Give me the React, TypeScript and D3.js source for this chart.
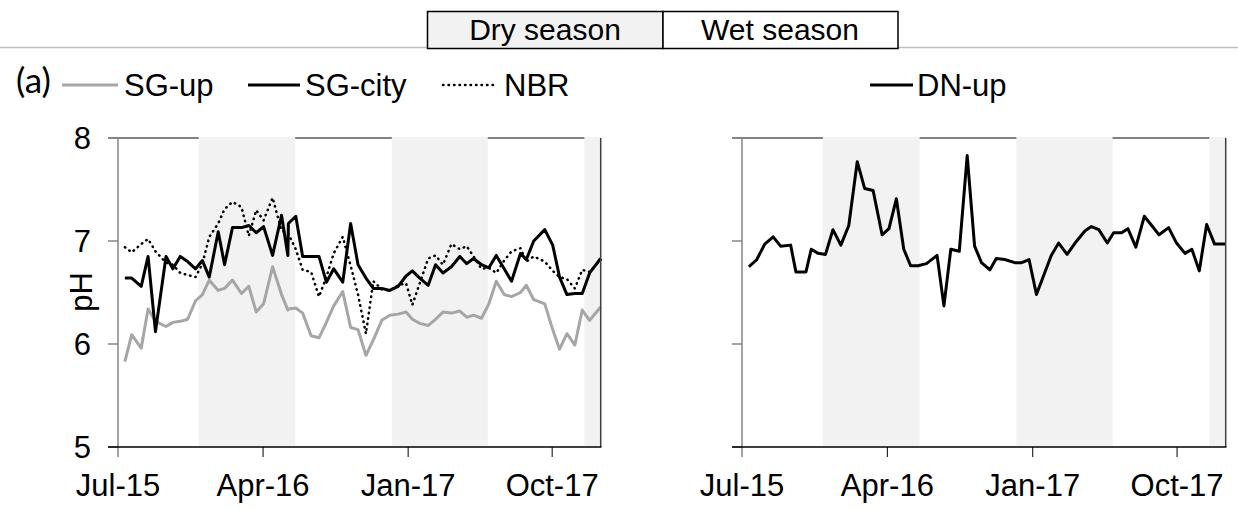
import * as d3 from 'd3';

// sampling dates and pH values
const sgDates = [
  '2015-07-14', '2015-07-27', '2015-08-14', '2015-08-27', '2015-09-10', '2015-09-30', '2015-10-13',
  '2015-10-27', '2015-11-10', '2015-11-25', '2015-12-08', '2015-12-21', '2016-01-07', '2016-01-19',
  '2016-02-03', '2016-02-20', '2016-03-05', '2016-03-19', '2016-04-02', '2016-04-19', '2016-05-06',
  '2016-05-18', '2016-05-19', '2016-06-02', '2016-06-15', '2016-07-01', '2016-07-16', '2016-07-30',
  '2016-08-13', '2016-08-30', '2016-09-14', '2016-09-28', '2016-10-13', '2016-10-27', '2016-11-12',
  '2016-11-27', '2016-12-13', '2016-12-28', '2017-01-09', '2017-01-23', '2017-02-08', '2017-02-22',
  '2017-03-08', '2017-03-24', '2017-04-09', '2017-04-22', '2017-05-05', '2017-05-20', '2017-06-03',
  '2017-06-17', '2017-07-02', '2017-07-16', '2017-08-02', '2017-08-13', '2017-08-27', '2017-09-17',
  '2017-10-02', '2017-10-15', '2017-10-29', '2017-11-13', '2017-11-27', '2017-12-11', '2018-01-01',
];

const sgUp = [
  5.83, 6.09, 5.96, 6.34, 6.22, 6.17, 6.21, 6.22, 6.24, 6.42, 6.48, 6.62, 6.52, 6.54,
  6.62, 6.49, 6.56, 6.31, 6.39, 6.75, 6.48, 6.33, 6.34, 6.35, 6.3, 6.08, 6.06, 6.21,
  6.37, 6.51, 6.16, 6.14, 5.89, 6.04, 6.23, 6.28, 6.29, 6.31, 6.24, 6.2, 6.18, 6.24,
  6.31, 6.3, 6.32, 6.26, 6.28, 6.25, 6.39, 6.61, 6.48, 6.46, 6.5, 6.57, 6.43, 6.39,
  6.14, 5.95, 6.1, 5.99, 6.33, 6.23, 6.36,
];

const sgCity = [
  6.64, 6.64, 6.56, 6.85, 6.12, 6.85, 6.73, 6.85, 6.8, 6.73, 6.81, 6.65, 7.09, 6.77,
  7.13, 7.13, 7.15, 7.08, 7.14, 6.86, 7.25, 6.86, 7.17, 7.24, 6.85, 6.85, 6.85, 6.6,
  6.73, 6.6, 7.17, 6.77, 6.64, 6.54, 6.54, 6.52, 6.56, 6.66, 6.71, 6.64, 6.57, 6.77,
  6.69, 6.75, 6.85, 6.78, 6.83, 6.77, 6.74, 6.86, 6.73, 6.61, 6.88, 6.82, 7.0, 7.11,
  6.96, 6.65, 6.48, 6.49, 6.49, 6.69, 6.83,
];

const nbr = [
  6.94, 6.89, 6.97, 7.02, 6.9, 6.79, 6.77, 6.69, 6.67, 6.65, 6.78, 7.04, 7.17, 7.31,
  7.38, 7.33, 7.05, 7.3, 7.2, 7.42, 7.1, 7.08, 7.07, 6.92, 6.72, 6.7, 6.46, 6.65,
  6.88, 7.04, 6.76, 6.48, 6.1, 6.61, 6.53, 6.52, 6.57, 6.59, 6.38, 6.59, 6.83, 6.86,
  6.77, 6.97, 6.92, 6.95, 6.85, 6.73, 6.74, 6.69, 6.81, 6.9, 6.93, 6.8, 6.85, 6.8,
  6.71, 6.65, 6.63, 6.54, 6.72, 6.7, 6.82,
];

const dnDates = [
  '2015-07-14', '2015-07-29', '2015-08-13', '2015-08-29', '2015-09-12', '2015-10-01', '2015-10-11',
  '2015-10-30', '2015-11-09', '2015-11-22', '2015-12-06', '2015-12-20', '2016-01-04', '2016-01-19',
  '2016-02-04', '2016-02-18', '2016-03-05', '2016-03-22', '2016-04-04', '2016-04-18', '2016-05-02',
  '2016-05-15', '2016-05-29', '2016-06-14', '2016-07-04', '2016-07-17', '2016-07-30', '2016-08-15',
  '2016-08-30', '2016-09-13', '2016-09-26', '2016-10-12', '2016-10-24', '2016-11-09', '2016-11-28',
  '2016-12-11', '2016-12-25', '2017-01-08', '2017-01-22', '2017-02-05', '2017-02-19', '2017-03-07',
  '2017-03-22', '2017-04-10', '2017-04-22', '2017-05-06', '2017-05-22', '2017-06-03', '2017-06-18',
  '2017-06-30', '2017-07-15', '2017-07-31', '2017-08-14', '2017-08-28', '2017-09-15', '2017-09-30',
  '2017-10-16', '2017-10-29', '2017-11-12', '2017-11-26', '2017-12-11', '2018-01-01',
];

const dnUp = [
  6.75, 6.82, 6.97, 7.04, 6.95, 6.96, 6.7, 6.7, 6.92, 6.88, 6.87, 7.11, 6.96, 7.15,
  7.77, 7.51, 7.49, 7.06, 7.12, 7.41, 6.92, 6.76, 6.76, 6.78, 6.86, 6.37, 6.92, 6.9,
  7.83, 6.95, 6.79, 6.72, 6.83, 6.82, 6.79, 6.79, 6.82, 6.48, 6.67, 6.86, 6.98, 6.87,
  6.98, 7.1, 7.14, 7.11, 6.98, 7.08, 7.08, 7.12, 6.94, 7.24, 7.15, 7.06, 7.13, 6.98,
  6.88, 6.92, 6.71, 7.16, 6.97, 6.97,
];

const drySeasons = [
  ['2015-12-01', '2016-06-01'],
  ['2016-12-01', '2017-06-01'],
  ['2017-12-01', '2018-01-01'],
];
const xDomain = ['2015-07-01', '2018-01-01'];
const tickDates = ['2015-07-01', '2016-04-01', '2017-01-01', '2017-10-01'];
const tickLabels = ['Jul-15', 'Apr-16', 'Jan-17', 'Oct-17'];
const yTicks = [5, 6, 7, 8];

const FONT = '"Liberation Sans", Arial, sans-serif';
const plotTop = 138;
const plotBottom = 447;

interface Series {
  dates: string[];
  values: number[];
  color: string;
  width: number;
  dash?: string;
}

const Panel = ({ left, right, series, yLabels }: { left: number; right: number; series: Series[]; yLabels: boolean }) => {
  const x = d3.scaleUtc().domain(xDomain.map(d => new Date(d))).range([left, right]);
  const y = d3.scaleLinear().domain([5, 8]).range([plotBottom, plotTop]);

  return (
    <g>
      <line x1={left - 10} x2={right} y1={plotTop} y2={plotTop} stroke="#595959" strokeWidth={1.5} />
      {drySeasons.map(([a, b], i) => (
        <rect
          key={i}
          x={x(new Date(a))}
          y={plotTop - 1}
          width={x(new Date(b)) - x(new Date(a))}
          height={plotBottom - plotTop + 1}
          fill="#f2f2f2"
        />
      ))}
      {series.map((s, i) => {
        const line = d3
          .line<number>()
          .x((_, j) => x(new Date(s.dates[j])))
          .y(d => y(d));
        return (
          <path
            key={i}
            d={line(s.values) ?? ''}
            fill="none"
            stroke={s.color}
            strokeWidth={s.width}
            strokeDasharray={s.dash}
            strokeLinejoin="round"
            strokeLinecap={s.dash ? 'round' : 'butt'}
          />
        );
      })}
      <line x1={right} x2={right} y1={plotTop} y2={plotBottom} stroke="#404040" strokeWidth={1.5} />
      <line x1={left} x2={left} y1={plotTop} y2={plotBottom + 10} stroke="#868686" strokeWidth={1.5} />
      {yTicks.map(t => (
        <g key={t}>
          <line x1={left - 10} x2={left} y1={y(t)} y2={y(t)} stroke="#868686" strokeWidth={1.5} />
          {yLabels && (
            <text x={left - 27} y={y(t)} dy="0.36em" textAnchor="end" fontSize={31} fontFamily={FONT}>
              {t}
            </text>
          )}
        </g>
      ))}
      <line x1={left - 10} x2={right + 0.75} y1={plotBottom} y2={plotBottom} stroke="#000" strokeWidth={1.5} />
      {tickDates.map((d, i) => (
        <g key={d}>
          {i > 0 && (
            <line x1={x(new Date(d))} x2={x(new Date(d))} y1={plotBottom} y2={plotBottom + 10} stroke="#000" strokeWidth={1} />
          )}
          <text x={x(new Date(d))} y={496} textAnchor="middle" fontSize={31} fontFamily={FONT}>
            {tickLabels[i]}
          </text>
        </g>
      ))}
    </g>
  );
};

export default function App() {
  const sgSeries: Series[] = [
    { dates: sgDates, values: sgUp, color: '#a6a6a6', width: 3 },
    { dates: sgDates, values: nbr, color: '#000', width: 2.5, dash: '0.5 5' },
    { dates: sgDates, values: sgCity, color: '#000', width: 3 },
  ];
  const dnSeries: Series[] = [{ dates: dnDates, values: dnUp, color: '#000', width: 3 }];

  return (
    <div style={{ position: 'absolute', left: 0, top: 0 }}>
      <svg width={1238} height={509} style={{ display: 'block', background: '#fff' }}>
        <line x1={0} x2={1238} y1={47.5} y2={47.5} stroke="#bfbfbf" strokeWidth={1.5} />
        <rect x={427.5} y={11.5} width={235.5} height={37} fill="#f2f2f2" stroke="#000" strokeWidth={1.5} />
        <rect x={663} y={11.5} width={235} height={37} fill="#fff" stroke="#000" strokeWidth={1.5} />
        <text x={545} y={40} textAnchor="middle" fontSize={30} fontFamily={FONT}>Dry season</text>
        <text x={780} y={40} textAnchor="middle" fontSize={30} fontFamily={FONT}>Wet season</text>

        <text x={16} y={93} fontSize={35} fontFamily="Lato, 'Open Sans', sans-serif">(a)</text>
        <line x1={62} x2={118} y1={85} y2={85} stroke="#a6a6a6" strokeWidth={3} />
        <text x={124} y={96} fontSize={31} fontFamily={FONT}>SG-up</text>
        <line x1={248} x2={300} y1={85} y2={85} stroke="#000" strokeWidth={3} />
        <text x={305} y={96} fontSize={31} fontFamily={FONT}>SG-city</text>
        <line x1={443} x2={494} y1={85} y2={85} stroke="#000" strokeWidth={2.5} strokeDasharray="0.5 5" strokeLinecap="round" />
        <text x={504} y={96} fontSize={31} fontFamily={FONT}>NBR</text>
        <line x1={870} x2={913} y1={85} y2={85} stroke="#000" strokeWidth={3} />
        <text x={917} y={96} fontSize={31} fontFamily={FONT}>DN-up</text>

        <text
          transform="translate(92,292) rotate(-90)"
          textAnchor="middle"
          fontSize={31}
          fontFamily={FONT}
        >
          pH
        </text>

        <Panel left={118} right={600.7} series={sgSeries} yLabels />
        <Panel left={742} right={1225.7} series={dnSeries} yLabels={false} />
      </svg>
    </div>
  );
}
